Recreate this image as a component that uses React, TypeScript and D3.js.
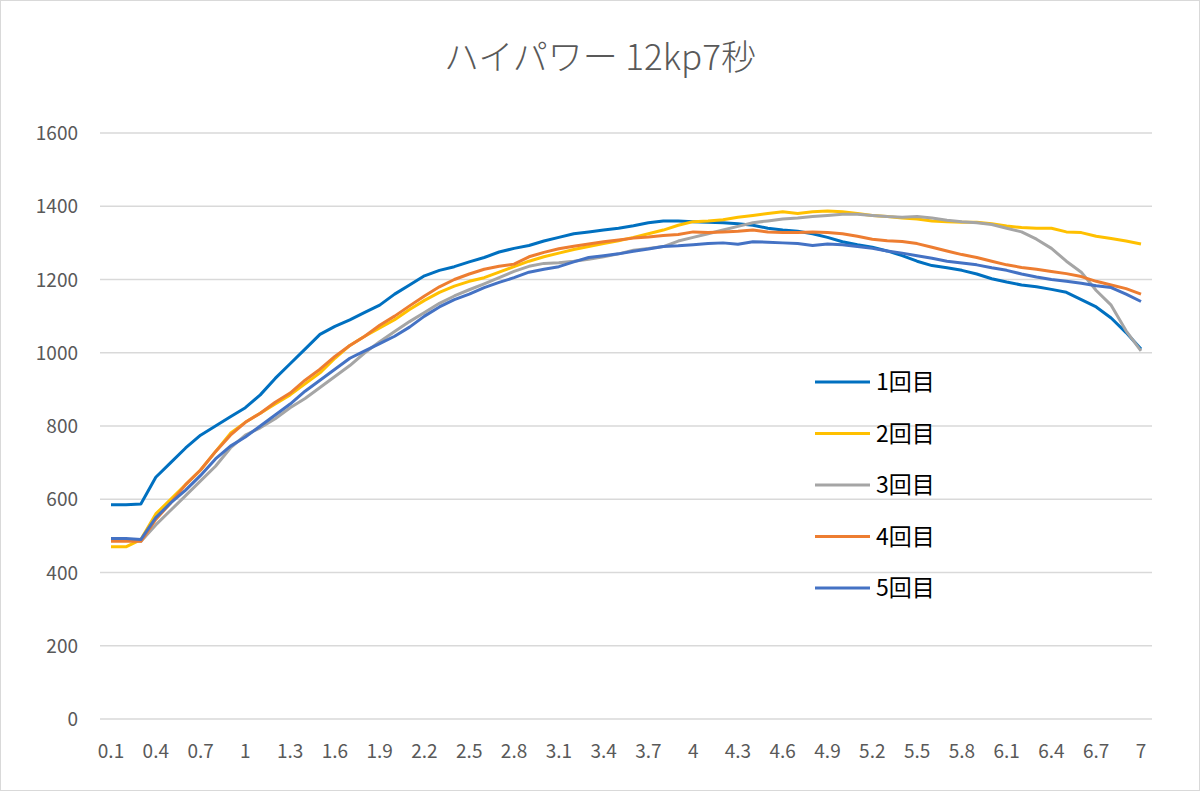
import { scaleLinear, line } from "d3";

const xs: number[] = Array.from({ length: 70 }, (_, i) => Math.round((i + 1)) / 10);
const xTicks = ["0.1","0.4","0.7","1","1.3","1.6","1.9","2.2","2.5","2.8","3.1","3.4","3.7","4","4.3","4.6","4.9","5.2","5.5","5.8","6.1","6.4","6.7","7"];
const yTicks = [0, 200, 400, 600, 800, 1000, 1200, 1400, 1600];

const run1 = [
  585, 585, 587, 660, 700, 740, 775, 800, 825, 850,
  885, 930, 970, 1010, 1050, 1072, 1090, 1110, 1130, 1160,
  1185, 1210, 1225, 1235, 1248, 1260, 1275, 1285, 1293, 1305,
  1315, 1325, 1330, 1335, 1340, 1347, 1355, 1360, 1360, 1358,
  1356, 1355, 1352, 1348, 1340, 1335, 1332, 1325, 1315, 1303,
  1295, 1288, 1278, 1265, 1250, 1238, 1232, 1225, 1215, 1202,
  1193, 1185, 1180, 1173, 1165, 1145, 1125, 1095, 1055, 1010,
];
const run2 = [
  470, 470, 490, 560, 600, 640, 680, 730, 780, 810,
  835, 860, 885, 915, 945, 985, 1020, 1045, 1068, 1090,
  1118, 1143, 1165, 1182, 1195, 1205, 1220, 1235, 1250, 1262,
  1272, 1282, 1290, 1298, 1306, 1315, 1325, 1335, 1348, 1358,
  1360, 1363, 1370, 1375, 1380, 1385, 1380, 1385, 1387, 1385,
  1380, 1375, 1372, 1368, 1365, 1360, 1358, 1356, 1356, 1352,
  1346, 1342, 1340, 1340, 1330, 1328, 1318, 1312, 1305, 1297,
];
const run3 = [
  490, 490, 485, 530, 570, 610, 650, 690, 740, 775,
  795, 820, 850, 875, 905, 935, 965, 1000, 1030, 1058,
  1085, 1110, 1135, 1155, 1172, 1188, 1205, 1222, 1236, 1244,
  1246, 1250, 1255, 1262, 1270, 1280, 1285, 1290, 1305, 1315,
  1325, 1335, 1345, 1355, 1360, 1365, 1368, 1372, 1375, 1378,
  1378, 1375, 1372, 1370, 1372, 1368, 1362, 1358, 1355, 1350,
  1340, 1330, 1310, 1285, 1250, 1220, 1170, 1130, 1060, 1005,
];
const run4 = [
  485, 485, 485, 545, 590, 640, 680, 730, 775, 810,
  835, 865, 890, 925, 955, 990, 1020, 1045, 1075, 1100,
  1128, 1155, 1180, 1200, 1215, 1228, 1236, 1242, 1262, 1274,
  1284, 1291, 1297, 1303, 1308, 1313, 1316, 1320, 1323, 1330,
  1328, 1330, 1332, 1335, 1330, 1328, 1328, 1330, 1328, 1325,
  1318, 1310, 1306, 1304, 1298, 1288, 1278, 1268, 1260, 1250,
  1240, 1233, 1228, 1222, 1216, 1208, 1195, 1185, 1175, 1160,
];
const run5 = [
  493, 493, 490, 550, 590, 625, 665, 710, 745, 770,
  800, 830, 860, 895, 925, 955, 985, 1005, 1025, 1045,
  1070, 1100, 1125, 1145, 1160, 1178, 1192, 1205, 1220, 1228,
  1235, 1248, 1260, 1265, 1270, 1277, 1283, 1290, 1292, 1295,
  1298, 1300, 1296, 1303, 1302, 1300, 1298, 1293, 1297, 1295,
  1290, 1285, 1278, 1272, 1265, 1258, 1250, 1245, 1240, 1232,
  1225, 1215, 1207, 1200, 1195, 1190, 1183, 1178, 1160, 1140,
];

const names = ["1回目", "2回目", "3回目", "4回目", "5回目"];
const colors = ["#0070C0", "#FFC000", "#A5A5A5", "#ED7D31", "#4472C4"];
const series = [run1, run2, run3, run4, run5];

export default function App() {
  const width = 1200;
  const height = 791;
  const x = scaleLinear([0, xs.length - 1], [111, 1141]);
  const y = scaleLinear([0, 1600], [719, 133]);
  const path = line<number>((_, i) => x(i), (d) => y(d));
  const font = "'Noto Sans CJK JP', 'Noto Sans', sans-serif";

  return (
    <div style={{ position: "fixed", left: 0, top: 0 }}>
      <svg width={width} height={height} style={{ display: "block", fontFamily: font }}>
        <rect x={0.5} y={0.5} width={width - 1} height={height - 1} fill="#fff" stroke="#d9d9d9" />
        <text x={600} y={70} textAnchor="middle" fontSize={35} fontWeight={300} fill="#595959">
          ハイパワー 12kp7秒
        </text>
        {yTicks.map((t) => (
          <g key={t}>
            <line x1={100} x2={1152} y1={y(t)} y2={y(t)} stroke="#d9d9d9" strokeWidth={1.5} />
            <text x={78} y={y(t) + 7} textAnchor="end" fontSize={19} fill="#595959">
              {t}
            </text>
          </g>
        ))}
        {xs.map((v, i) => {
          const lbl = String(v);
          return xTicks.includes(lbl) && i % 3 === 0 || i === 69 ? (
            <text key={i} x={x(i)} y={758} textAnchor="middle" fontSize={19} fill="#595959">
              {lbl}
            </text>
          ) : null;
        })}
        {series.map((s, k) => (
          <path key={k} d={path(s) ?? ""} fill="none" stroke={colors[k]} strokeWidth={3} strokeLinejoin="round" />
        ))}
        {names.map((n, k) => (
          <g key={n}>
            <line x1={815} x2={870} y1={382 + k * 51.5} y2={382 + k * 51.5} stroke={colors[k]} strokeWidth={3} />
            <text x={876} y={382 + k * 51.5 + 8} fontSize={23} fill="#000">
              {n}
            </text>
          </g>
        ))}
      </svg>
    </div>
  );
}
